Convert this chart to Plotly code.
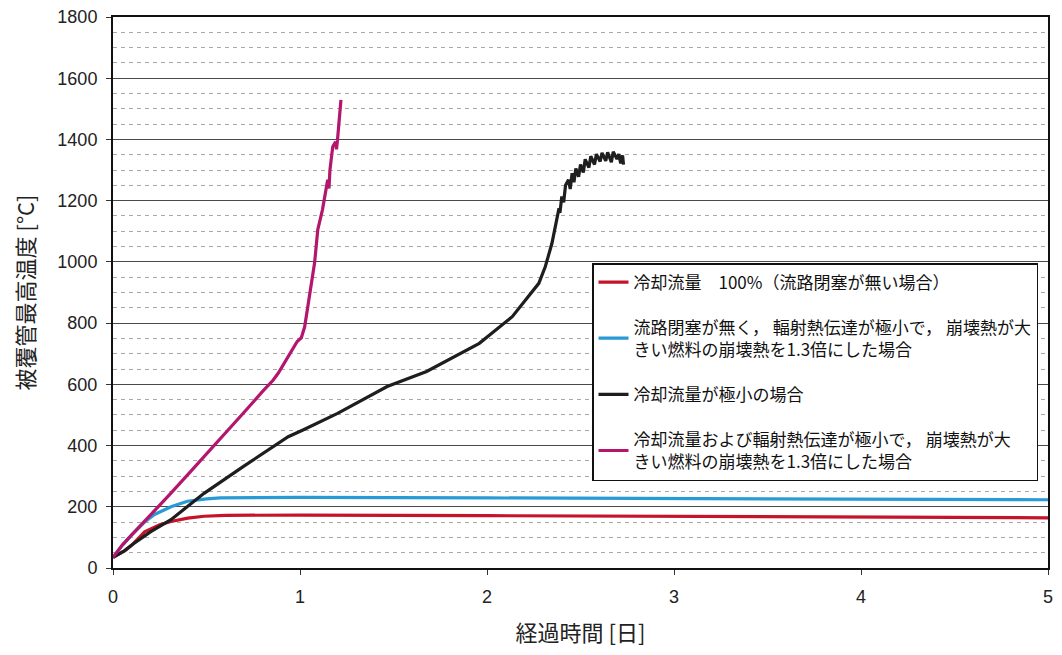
import plotly.graph_objects as go

# ---- data (days, °C) ----
red_x = [0, 0.03, 0.063, 0.1, 0.14, 0.169, 0.25, 0.31, 0.4, 0.487, 0.6, 0.8, 1.0, 2.0, 3.0, 4.0, 5.0]
red_y = [35, 46, 57, 74, 98, 118, 141, 152, 163, 169, 172, 173, 173, 171, 168, 166, 164]

blue_x = [0, 0.05, 0.1, 0.169, 0.222, 0.31, 0.398, 0.5, 0.574, 0.8, 1.0, 2.0, 3.0, 4.0, 5.0]
blue_y = [35, 75, 108, 150, 175, 200, 218, 226, 229, 231, 231, 229, 227, 225, 223]

black_x = [0, 0.03, 0.063, 0.1, 0.14, 0.2, 0.31, 0.487, 0.698, 0.937, 1.016, 1.201, 1.466, 1.677,
           1.959, 2.135, 2.277, 2.312, 2.347, 2.373, 2.385, 2.39, 2.40, 2.41, 2.42, 2.436,
           2.445, 2.455, 2.465, 2.475, 2.49, 2.50, 2.515, 2.525, 2.545, 2.555, 2.575, 2.585,
           2.605, 2.615, 2.635, 2.645, 2.665, 2.675, 2.695, 2.705, 2.715, 2.725, 2.73]
black_y = [35, 46, 57, 75, 92, 118, 158, 244, 332, 429, 451, 505, 593, 642,
           734, 821, 930, 985, 1060, 1148, 1175, 1160, 1214, 1195, 1250, 1268,
           1238, 1290, 1260, 1305, 1278, 1318, 1292, 1335, 1308, 1345, 1318, 1352, 1328,
           1356, 1330, 1358, 1326, 1360, 1336, 1352, 1322, 1348, 1318]

mag_x = [0, 0.05, 0.1, 0.2, 0.3, 0.4, 0.5, 0.6, 0.7, 0.8, 0.857, 0.884, 0.954, 0.985, 1.007,
         1.025, 1.078, 1.095, 1.12, 1.148, 1.155, 1.16, 1.175, 1.19, 1.195, 1.2, 1.219]
mag_y = [35, 75, 108, 172, 238, 305, 372, 440, 508, 577, 614, 637, 712, 740, 752,
         788, 997, 1105, 1170, 1268, 1240, 1300, 1376, 1392, 1368, 1395, 1529]

names = [
    "冷却流量　100%（流路閉塞が無い場合）",
    "流路閉塞が無く， 輻射熱伝達が極小で， 崩壊熱が大<br>きい燃料の崩壊熱を1.3倍にした場合",
    "冷却流量が極小の場合",
    "冷却流量および輻射熱伝達が極小で， 崩壊熱が大<br>きい燃料の崩壊熱を1.3倍にした場合",
]
colors = ["#c4142c", "#2a9ad4", "#1e1e1e", "#b3166c"]

x_ticks = [0, 1, 2, 3, 4, 5]
y_ticks = [0, 200, 400, 600, 800, 1000, 1200, 1400, 1600, 1800]

JP = "Noto Sans CJK JP"
fig = go.Figure()
series = [(red_x, red_y), (blue_x, blue_y), (black_x, black_y), (mag_x, mag_y)]
for i, ((xs, ys), nm, c) in enumerate(zip(series, names, colors)):
    fig.add_trace(go.Scatter(x=xs, y=ys, mode="lines", name=nm, legendgroup=f"g{i}",
                             line=dict(color=c, width=3.2)))

# page body has an 8px default margin, so the figure is sized/offset to fit inside it
fig.update_layout(
    width=1046, height=639,
    margin=dict(l=105, r=6, t=9, b=79, autoexpand=False),
    paper_bgcolor="white", plot_bgcolor="white",
    font=dict(family=JP, color="#222"),
    legend=dict(x=0.5123, y=0.5535, xanchor="left", yanchor="top",
                bgcolor="white", bordercolor="#111", borderwidth=1.5,
                font=dict(family=JP, size=17, color="#111"),
                tracegroupgap=20, traceorder="grouped"),
    xaxis=dict(range=[0, 5], tickvals=x_ticks, showgrid=False, zeroline=False, automargin=False,
               showline=True, mirror=True, linecolor="#111", linewidth=2,
               ticks="outside", ticklen=5, tickcolor="#333", ticklabelstandoff=6,
               ticklabeloverflow="allow",
               tickfont=dict(family="Liberation Sans", size=18, color="#222"),
               title=dict(text="経過時間 [日]", font=dict(family=JP, size=22, color="#222"), standoff=24)),
    yaxis=dict(range=[0, 1800], tickvals=y_ticks, showgrid=True, gridcolor="#4a4a4a", gridwidth=1.3,
               zeroline=False, showline=True, mirror=True, linecolor="#111", linewidth=2, automargin=False,
               ticks="outside", ticklen=5, tickcolor="#333", ticklabelstandoff=5,
               ticklabeloverflow="allow",
               tickfont=dict(family="Liberation Sans", size=18, color="#222"),
               minor=dict(dtick=50, showgrid=True, gridcolor="#a8a8a8", gridwidth=1, griddash="4px,4px"),
               title=dict(text="被覆管最高温度 [°C]", font=dict(family=JP, size=22, color="#222"), standoff=19)),
)

fig.write_html("out.html")
